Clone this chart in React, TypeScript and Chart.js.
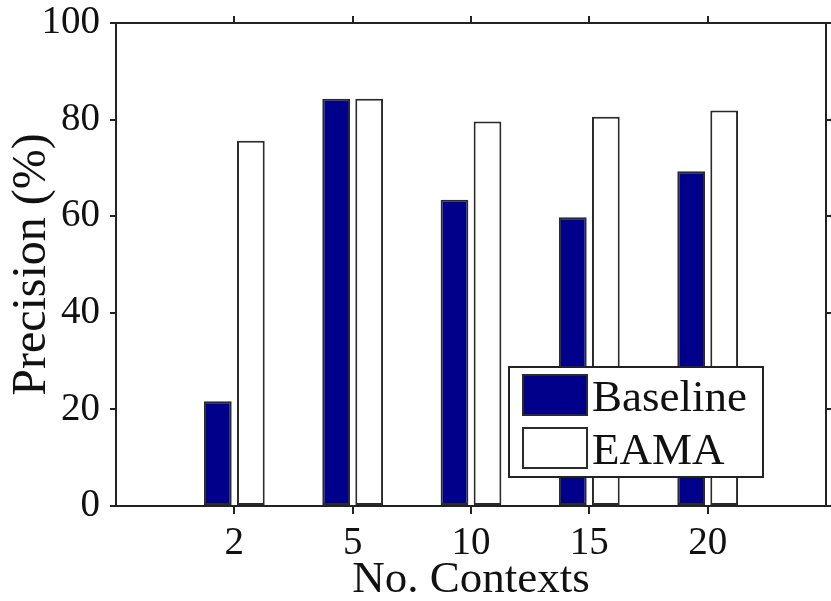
import React, { useEffect, useRef } from 'react';
import { Chart, registerables } from 'chart.js';

Chart.register(...registerables);

// Category slots: empty slots at both ends keep a one-slot margin around the groups
const contexts = ['', '2', '5', '10', '15', '20', ''];
const baselinePrecision = [null, 21.7, 84.3, 63.4, 59.8, 69.3, null];
const eamaPrecision = [null, 75.6, 84.3, 79.6, 80.6, 81.9, null];
const seriesNames = ['Baseline', 'EAMA'];
const yMin = 0;
const yMax = 100;
const yStep = 20;

const SERIF = '"Liberation Serif", "Times New Roman", serif';
const TEXT = '#111111';
const AXIS = '#222222';
const EDGE = '#2a2a2a';
const NAVY = '#00008a';

// Tick marks only at real categories, not at the empty end slots
const categoryTickColor = (ctx: any) =>
  ctx.index === 0 || ctx.index === contexts.length - 1 ? 'rgba(0,0,0,0)' : AXIS;

// Keep the plot frame fixed: no extra room for overhanging tick labels
const fixHorizontal = (height: number) => (s: any) => {
  s.height = height;
  s.paddingLeft = 0;
  s.paddingRight = 0;
};
const fixVertical = (width: number) => (s: any) => {
  s.width = width;
  s.paddingTop = 0;
  s.paddingBottom = 0;
};

// Boxed legend drawn inside the lower-right part of the plot
const boxedLegend = {
  id: 'boxedLegend',
  afterDatasetsDraw(chart: any) {
    const { ctx, chartArea } = chart;
    const w = 254;
    const h = 110;
    const x = chartArea.right - 63 - w;
    const y = chartArea.bottom - 29 - h;
    ctx.save();
    ctx.fillStyle = '#ffffff';
    ctx.fillRect(x, y, w, h);
    ctx.lineWidth = 2;
    ctx.strokeStyle = AXIS;
    ctx.strokeRect(x, y, w, h);
    chart.data.datasets.forEach((ds: any, i: number) => {
      const sy = y + 8 + i * 53;
      ctx.fillStyle = ds.backgroundColor;
      ctx.fillRect(x + 14, sy, 64, 40);
      ctx.lineWidth = 2;
      ctx.strokeStyle = EDGE;
      ctx.strokeRect(x + 14, sy, 64, 40);
      ctx.fillStyle = TEXT;
      ctx.font = `45px ${SERIF}`;
      ctx.textAlign = 'left';
      ctx.textBaseline = 'alphabetic';
      ctx.fillText(ds.label, x + 83, sy + 36);
    });
    ctx.restore();
  },
};

export default function App() {
  const canvasRef = useRef<HTMLCanvasElement | null>(null);

  useEffect(() => {
    if (!canvasRef.current) return;
    const barStyle = {
      borderColor: EDGE,
      borderWidth: 2,
      borderSkipped: false,
      categoryPercentage: 0.558,
      barPercentage: 0.84,
      xAxisID: 'x',
      yAxisID: 'y',
    };
    const chart = new Chart(canvasRef.current, {
      type: 'bar',
      data: {
        labels: contexts,
        datasets: [
          { ...barStyle, label: seriesNames[0], data: baselinePrecision, backgroundColor: NAVY },
          { ...barStyle, label: seriesNames[1], data: eamaPrecision, backgroundColor: '#ffffff' },
        ],
      },
      options: {
        responsive: false,
        animation: false,
        devicePixelRatio: 1,
        layout: { padding: { top: 16, right: 0, bottom: 0, left: 0 } },
        plugins: {
          legend: { display: false },
          tooltip: { enabled: false },
        },
        scales: {
          x: {
            type: 'category',
            position: 'bottom',
            offset: false,
            grid: {
              offset: false,
              drawOnChartArea: false,
              tickLength: 8,
              lineWidth: 2,
              tickColor: categoryTickColor,
            },
            border: { color: AXIS, width: 2 },
            ticks: {
              font: { family: SERIF, size: 39, lineHeight: 1 },
              color: TEXT,
              padding: 10,
              maxRotation: 0,
              autoSkip: false,
            },
            title: {
              display: true,
              text: 'No. Contexts',
              font: { family: SERIF, size: 45, lineHeight: 1 },
              color: TEXT,
              padding: { top: 0, bottom: -2 },
            },
            afterFit: fixHorizontal(95),
          },
          x2: {
            type: 'category',
            position: 'top',
            offset: false,
            grid: {
              offset: false,
              drawOnChartArea: false,
              tickLength: 7,
              lineWidth: 2,
              tickColor: categoryTickColor,
            },
            border: { color: AXIS, width: 2 },
            ticks: { display: false },
            afterFit: fixHorizontal(7),
          },
          y: {
            position: 'left',
            min: yMin,
            max: yMax,
            grid: {
              drawOnChartArea: false,
              tickLength: 6,
              lineWidth: 2,
              tickColor: AXIS,
            },
            border: { color: AXIS, width: 2 },
            ticks: {
              stepSize: yStep,
              font: { family: SERIF, size: 39, lineHeight: 1 },
              color: TEXT,
              padding: 10,
            },
            title: {
              display: true,
              text: 'Precision (%)',
              font: { family: SERIF, size: 48, lineHeight: 1 },
              color: TEXT,
              padding: { top: 8, bottom: 0 },
            },
            afterFit: fixVertical(116),
          },
          y2: {
            position: 'right',
            min: yMin,
            max: yMax,
            grid: {
              drawOnChartArea: false,
              tickLength: 5,
              lineWidth: 2,
              tickColor: AXIS,
            },
            border: { color: AXIS, width: 2 },
            ticks: { stepSize: yStep, display: false },
            afterFit: fixVertical(5),
          },
        },
      },
      plugins: [boxedLegend],
    } as any);
    return () => chart.destroy();
  }, []);

  return (
    <div style={{ position: 'absolute', left: 0, top: 0, width: 831, height: 601, background: '#ffffff' }}>
      <canvas ref={canvasRef} width={831} height={601} style={{ display: 'block' }} />
    </div>
  );
}
